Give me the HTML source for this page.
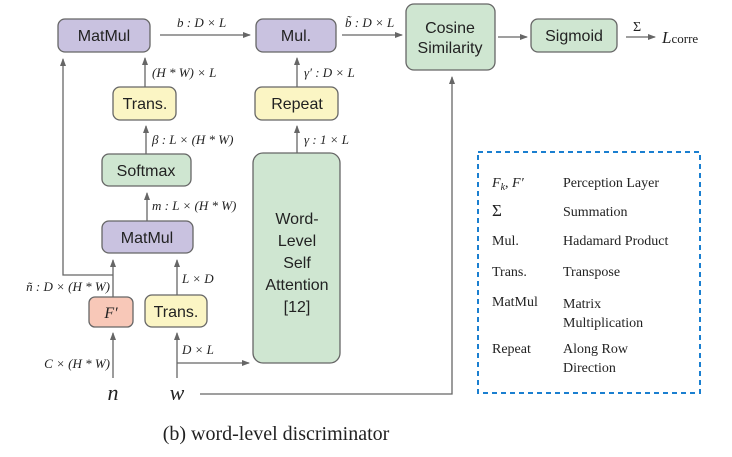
<!DOCTYPE html>
<html><head><meta charset="utf-8"><style>
html,body{margin:0;padding:0;background:#fff;}
svg{display:block;}
.b{font-family:"Liberation Sans",sans-serif;font-size:16px;fill:#222;}
.m{font-family:"Liberation Serif",serif;font-style:italic;font-size:13px;fill:#222;}
.s{font-family:"Liberation Serif",serif;font-size:14px;fill:#222;}
</style></head><body>
<svg width="732" height="457" viewBox="0 0 732 457" xmlns="http://www.w3.org/2000/svg">
<defs><marker id="a" markerWidth="8" markerHeight="8" refX="7" refY="4" orient="auto" markerUnits="userSpaceOnUse"><path d="M0,1 L8,4 L0,7 z" fill="#666"/></marker></defs>
<g stroke="#666" stroke-width="1.3" fill="none">
<rect x="58" y="19" width="92" height="33" rx="7" fill="#c9c2e0"/>
<rect x="256" y="19" width="80" height="33" rx="7" fill="#c9c2e0"/>
<rect x="406" y="4" width="89" height="66" rx="8" fill="#cfe6d1"/>
<rect x="531" y="19" width="86" height="33" rx="7" fill="#cfe6d1"/>
<rect x="113" y="87" width="63" height="33" rx="7" fill="#fbf5c4"/>
<rect x="255" y="87" width="83" height="33" rx="7" fill="#fbf5c4"/>
<rect x="102" y="154" width="89" height="32" rx="7" fill="#cfe6d1"/>
<rect x="253" y="153" width="87" height="210" rx="10" fill="#cfe6d1"/>
<rect x="102" y="221" width="91" height="32" rx="7" fill="#c9c2e0"/>
<rect x="89" y="297" width="44" height="30" rx="6" fill="#f8c8b8"/>
<rect x="145" y="295" width="62" height="32" rx="7" fill="#fbf5c4"/>
<line x1="160" y1="35" x2="250" y2="35" marker-end="url(#a)"/>
<line x1="342" y1="35" x2="402" y2="35" marker-end="url(#a)"/>
<line x1="498" y1="37" x2="527" y2="37" marker-end="url(#a)"/>
<line x1="626" y1="37" x2="655" y2="37" marker-end="url(#a)"/>
<line x1="145" y1="87" x2="145" y2="58" marker-end="url(#a)"/>
<line x1="297" y1="87" x2="297" y2="58" marker-end="url(#a)"/>
<line x1="146" y1="154" x2="146" y2="126" marker-end="url(#a)"/>
<line x1="297" y1="153" x2="297" y2="126" marker-end="url(#a)"/>
<line x1="147" y1="221" x2="147" y2="193" marker-end="url(#a)"/>
<line x1="113" y1="297" x2="113" y2="260" marker-end="url(#a)"/>
<line x1="177" y1="295" x2="177" y2="260" marker-end="url(#a)"/>
<polyline points="113,275 63,275 63,59" marker-end="url(#a)"/>
<line x1="113" y1="378" x2="113" y2="333" marker-end="url(#a)"/>
<line x1="177" y1="378" x2="177" y2="333" marker-end="url(#a)"/>
<line x1="177" y1="363" x2="249" y2="363" marker-end="url(#a)"/>
<polyline points="200,394 452,394 452,77" marker-end="url(#a)"/>
</g>
<rect x="478" y="152" width="222" height="241" fill="none" stroke="#1a7fd0" stroke-width="2" stroke-dasharray="5,4"/>
<g class="b" text-anchor="middle">
<text x="104" y="41">MatMul</text>
<text x="296" y="41">Mul.</text>
<text x="450" y="33">Cosine</text>
<text x="450" y="53">Similarity</text>
<text x="574" y="41">Sigmoid</text>
<text x="145" y="109">Trans.</text>
<text x="297" y="109">Repeat</text>
<text x="146" y="176">Softmax</text>
<text x="147" y="243">MatMul</text>
<text x="176" y="317">Trans.</text>
<text x="297" y="224">Word-</text>
<text x="297" y="246">Level</text>
<text x="297" y="268">Self</text>
<text x="297" y="290">Attention</text>
<text x="297" y="312">[12]</text>
</g>
<text x="111" y="318" text-anchor="middle" font-family="Liberation Serif,serif" font-style="italic" font-size="16" fill="#222">F′</text>
<g class="m">
<text x="177" y="27">b : D × L</text>
<text x="345" y="27">b̃ : D × L</text>
<text x="152" y="77">(H * W) × L</text>
<text x="304" y="77">γ′ : D × L</text>
<text x="152" y="144">β : L × (H * W)</text>
<text x="304" y="144">γ : 1 × L</text>
<text x="152" y="210">m : L × (H * W)</text>
<text x="182" y="283">L × D</text>
<text x="182" y="354">D × L</text>
<text x="110" y="291" text-anchor="end">ñ : D × (H * W)</text>
<text x="110" y="368" text-anchor="end">C × (H * W)</text>
</g>
<text x="633" y="31" class="s" font-size="19">Σ</text>
<text x="662" y="43" font-family="Liberation Serif,serif" font-size="17" fill="#222"><tspan font-style="italic">L</tspan><tspan font-size="13">corre</tspan></text>
<text x="113" y="400" text-anchor="middle" font-family="Liberation Serif,serif" font-style="italic" font-size="22" fill="#222">n</text>
<text x="177" y="400" text-anchor="middle" font-family="Liberation Serif,serif" font-style="italic" font-size="22" fill="#222">w</text>
<g class="s">
<text x="492" y="187"><tspan font-style="italic">F</tspan><tspan font-style="italic" font-size="10" dy="3">k</tspan><tspan dy="-3">, </tspan><tspan font-style="italic">F′</tspan></text>
<text x="563" y="187">Perception Layer</text>
<text x="492" y="216" font-size="17">Σ</text>
<text x="563" y="216">Summation</text>
<text x="492" y="245">Mul.</text>
<text x="563" y="245">Hadamard Product</text>
<text x="492" y="276">Trans.</text>
<text x="563" y="276">Transpose</text>
<text x="492" y="306">MatMul</text>
<text x="563" y="308">Matrix</text>
<text x="563" y="327">Multiplication</text>
<text x="492" y="353">Repeat</text>
<text x="563" y="353">Along Row</text>
<text x="563" y="372">Direction</text>
</g>
<text x="276" y="440" text-anchor="middle" font-family="Liberation Serif,serif" font-size="20" fill="#222">(b) word-level discriminator</text>
</svg>
</body></html>
